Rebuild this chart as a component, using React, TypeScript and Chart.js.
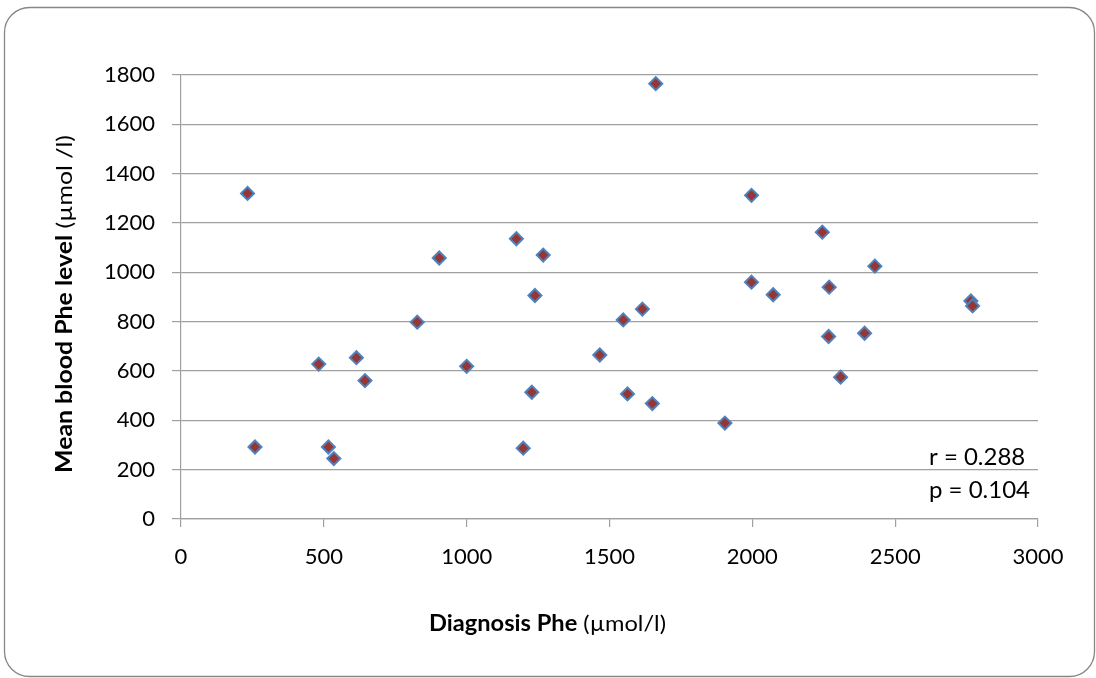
import React, { useEffect, useRef } from "react";
import { Chart, registerables } from "chart.js";

Chart.register(...registerables);

const diagnosisPhe = [233, 259, 482, 516, 535, 614, 644, 827, 904, 1000, 1174, 1198, 1228, 1239, 1268, 1466, 1548, 1563, 1615, 1650, 1662, 1904, 1997, 1997, 2073, 2245, 2267, 2269, 2309, 2393, 2429, 2765, 2771];
const meanPhe = [1320, 292, 628, 292, 245, 654, 561, 798, 1058, 619, 1136, 287, 514, 906, 1070, 665, 807, 507, 851, 468, 1765, 389, 1312, 960, 909, 1163, 740, 940, 575, 753, 1025, 884, 864];

const xTitleBold = "Diagnosis Phe";
const xTitleNormal = " (µmol/l)";
const yTitleBold = "Mean blood Phe level";
const yTitleNormal = " (µmol /l)";
const statsLines = ["r = 0.288", "p = 0.104"];

const FONT = "Lato, 'Open Sans', sans-serif";

function drawMixed(ctx: CanvasRenderingContext2D, bold: string, normal: string, size: number, targetWidth: number) {
  ctx.font = `bold ${size}px ${FONT}`;
  const wb = ctx.measureText(bold).width;
  ctx.font = `${size}px ${FONT}`;
  const wn = ctx.measureText(normal).width;
  const sx = targetWidth / (wb + wn);
  ctx.scale(sx, 1);
  ctx.textAlign = "left";
  ctx.textBaseline = "alphabetic";
  ctx.fillStyle = "#000";
  ctx.font = `bold ${size}px ${FONT}`;
  ctx.fillText(bold, 0, 0);
  ctx.font = `${size}px ${FONT}`;
  ctx.fillText(normal, wb, 0);
}

const decorPlugin = {
  id: "decor",
  beforeDraw(chart: any) {
    const ctx = chart.ctx as CanvasRenderingContext2D;
    ctx.save();
    ctx.fillStyle = "#ffffff";
    ctx.fillRect(0, 0, chart.width, chart.height);
    ctx.strokeStyle = "#868686";
    ctx.lineWidth = 1.3;
    ctx.beginPath();
    (ctx as any).roundRect(4.5, 7.5, 1090, 669, 25);
    ctx.stroke();
    ctx.restore();
  },
  afterDraw(chart: any) {
    const ctx = chart.ctx as CanvasRenderingContext2D;
    ctx.save();
    ctx.translate(429, 631);
    drawMixed(ctx, xTitleBold, xTitleNormal, 22, 237);
    ctx.restore();
    ctx.save();
    ctx.translate(72, 473);
    ctx.rotate(-Math.PI / 2);
    drawMixed(ctx, yTitleBold, yTitleNormal, 22, 338);
    ctx.restore();
    ctx.save();
    ctx.fillStyle = "#000";
    ctx.font = `24px ${FONT}`;
    ctx.textAlign = "left";
    ctx.textBaseline = "alphabetic";
    ctx.fillText(statsLines[0], 929, 465);
    ctx.fillText(statsLines[1], 929, 498);
    ctx.restore();
  },
};

export default function App() {
  const ref = useRef<HTMLCanvasElement>(null);
  useEffect(() => {
    if (!ref.current) return;
    const points = diagnosisPhe.map((x, i) => ({ x, y: meanPhe[i] }));
    const chart = new Chart(ref.current, {
      type: "scatter",
      data: {
        datasets: [
          {
            data: points,
            pointStyle: "rectRot",
            pointRadius: 6.5,
            pointBorderWidth: 2,
            backgroundColor: "#953735",
            borderColor: "#4f81bd",
          },
        ],
      },
      options: {
        animation: false,
        responsive: false,
        layout: { padding: { top: 75, right: 58, left: 0, bottom: 0 } },
        plugins: { legend: { display: false }, tooltip: { enabled: false } },
        scales: {
          x: {
            type: "linear",
            min: 0,
            max: 3000,
            afterFit: (s: any) => { s.height = 159; },
            ticks: { stepSize: 500, padding: 17, color: "#000", font: { family: FONT, size: 22 }, callback: (v: any) => String(v) },
            grid: { drawOnChartArea: false, drawTicks: true, tickLength: 8, color: "#a0a0a0", lineWidth: 1.2 },
            border: { display: true, color: "#a0a0a0", width: 1.2 },
          },
          y: {
            type: "linear",
            min: 0,
            max: 1800,
            afterFit: (s: any) => { s.width = 181; },
            ticks: { stepSize: 200, padding: 17, color: "#000", font: { family: FONT, size: 22 }, callback: (v: any) => String(v) },
            grid: { drawTicks: true, tickLength: 9, color: "#a0a0a0", lineWidth: 1.2 },
            border: { display: true, color: "#a0a0a0", width: 1.2 },
          },
        },
      },
      plugins: [decorPlugin],
    });
    return () => chart.destroy();
  }, []);
  return (
    <div style={{ position: "fixed", left: 0, top: 0, width: 1096, height: 678 }}>
      <canvas ref={ref} width={1096} height={678} style={{ display: "block" }} />
    </div>
  );
}
